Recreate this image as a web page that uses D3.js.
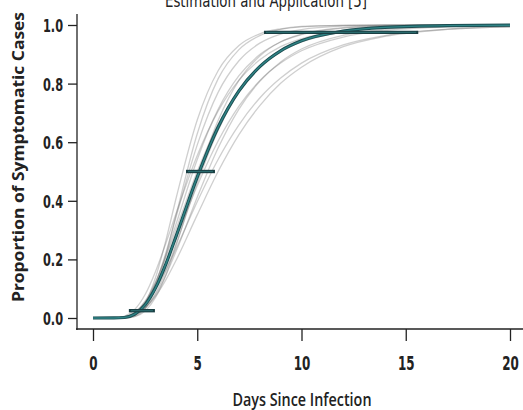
<!DOCTYPE html>
<html>
<head>
<meta charset="utf-8">
<script src="https://cdn.jsdelivr.net/npm/d3@7"></script>
<style>
  html, body { margin: 0; padding: 0; background: #fff; }
  svg { display: block; }
  .narrow { font-family: "Liberation Sans Narrow", "Arial Narrow", "DejaVu Sans Condensed", "Liberation Sans", sans-serif; }
</style>
</head>
<body>
<svg id="chart" width="523" height="410"></svg>
<script>
// ---- data ----
const days = [0, 1, 1.5, 2, 2.5, 3, 3.5, 4, 5, 6, 7, 8, 9, 10, 12, 14, 17, 20];
const mainCurve = [0, 0.0001, 0.0018, 0.013, 0.045, 0.103, 0.185, 0.282, 0.481, 0.651, 0.775, 0.858, 0.912, 0.946, 0.979, 0.992, 0.998, 0.9994];
const grayA = [0, 0, 0.0002, 0.010, 0.050, 0.138, 0.266, 0.413, 0.676, 0.844, 0.930, 0.970, 0.987, 0.995, 0.999, 1, 1, 1];
const grayB = [0, 0, 0.0004, 0.0103, 0.045, 0.1175, 0.224, 0.349, 0.591, 0.770, 0.878, 0.938, 0.969, 0.9845, 0.996, 0.999, 1, 1];
const grayC = [0, 0, 0.0018, 0.0143, 0.0515, 0.120, 0.215, 0.324, 0.541, 0.712, 0.827, 0.899, 0.942, 0.967, 0.989, 0.9963, 0.9992, 1];
const grayD = [0, 0.0001, 0.0031, 0.0186, 0.0576, 0.123, 0.209, 0.306, 0.5, 0.661, 0.778, 0.857, 0.909, 0.942, 0.977, 0.990, 0.9973, 0.9992];
const grayE = [0, 0.0002, 0.0036, 0.019, 0.055, 0.113, 0.189, 0.275, 0.451, 0.604, 0.723, 0.810, 0.870, 0.912, 0.959, 0.981, 0.9934, 0.9976];
const grayF = [0, 0.0003, 0.0038, 0.018, 0.050, 0.0996, 0.165, 0.239, 0.397, 0.541, 0.659, 0.751, 0.819, 0.870, 0.932, 0.964, 0.9856, 0.994];
const grayG = [0, 0, 0.0002, 0.0056, 0.033, 0.1026, 0.216, 0.356, 0.629, 0.816, 0.916, 0.964, 0.985, 0.9937, 0.9989, 1, 1, 1];
const grayH = [0, 0, 0.0007, 0.0084, 0.0336, 0.0845, 0.161, 0.256, 0.461, 0.640, 0.771, 0.859, 0.915, 0.949, 0.9817, 0.9934, 0.9985, 0.9996];
const grayI = [0, 0, 0.0008, 0.0093, 0.0334, 0.079, 0.147, 0.230, 0.412, 0.580, 0.713, 0.808, 0.874, 0.918, 0.965, 0.985, 0.9957, 0.9987];
const grayJ = [0, 0.0003, 0.0056, 0.0288, 0.080, 0.159, 0.256, 0.360, 0.555, 0.706, 0.812, 0.881, 0.926, 0.953, 0.981, 0.9924, 0.9979, 0.9994];
const grayK = [0, 0.0001, 0.0019, 0.011, 0.034, 0.0744, 0.131, 0.199, 0.352, 0.5, 0.626, 0.725, 0.801, 0.856, 0.926, 0.961, 0.985, 0.994];
const grayL = [0, 0, 0.0003, 0.0047, 0.0239, 0.0703, 0.148, 0.250, 0.478, 0.674, 0.811, 0.894, 0.943, 0.969, 0.991, 0.9975, 0.9996, 1];
const graySeries = [grayA, grayB, grayC, grayD, grayE, grayF, grayG, grayH, grayI, grayJ, grayK, grayL];
// confidence-interval bars: proportion level, low day, high day
const ciLevels = [0.025, 0.5, 0.975];
const ciLow = [1.72, 4.46, 8.2];
const ciHigh = [2.97, 5.85, 15.6];
const xTicks = [0, 5, 10, 15, 20];
const yTicks = [0, 0.2, 0.4, 0.6, 0.8, 1.0];
const title = "Estimation and Application [5]";
const xTitle = "Days Since Infection";
const yTitle = "Proportion of Symptomatic Cases";

// ---- drawing ----
const svg = d3.select("#chart");
const x = d3.scaleLinear().domain([0, 20]).range([93, 510]);
const y = d3.scaleLinear().domain([0, 1]).range([318, 25]);
const squeeze = 0.7;

const line = d3.line()
  .x((d, i) => x(days[i]))
  .y(d => y(d))
  .curve(d3.curveMonotoneX);

// gray bootstrap curves
svg.append("g")
  .selectAll("path")
  .data(graySeries)
  .join("path")
  .attr("d", line)
  .attr("fill", "none")
  .attr("stroke", "#6a6a6a")
  .attr("stroke-opacity", 0.32)
  .attr("stroke-width", 1.3);

// main curve
svg.append("path").attr("d", line(mainCurve))
  .attr("fill", "none").attr("stroke", "#1b4c50").attr("stroke-width", 3.2);
svg.append("path").attr("d", line(mainCurve))
  .attr("fill", "none").attr("stroke", "#2f8385").attr("stroke-width", 1.4);

// CI bars
const ciG = svg.append("g");
ciLevels.forEach((p, i) => {
  ciG.append("line")
    .attr("x1", x(ciLow[i])).attr("x2", x(ciHigh[i]))
    .attr("y1", y(p)).attr("y2", y(p))
    .attr("stroke", "#1a3f43").attr("stroke-width", 3.4);
  ciG.append("line")
    .attr("x1", x(ciLow[i]) + 2).attr("x2", x(ciHigh[i]) - 2)
    .attr("y1", y(p)).attr("y2", y(p))
    .attr("stroke", "#2a6a6d").attr("stroke-width", 1.2);
});

// y axis
const yAxis = svg.append("g").attr("transform", "translate(77,0)")
  .call(d3.axisLeft(y).tickValues(yTicks).tickFormat(d3.format(".1f")).tickSize(9));
yAxis.select(".domain").remove();
yAxis.selectAll(".tick line").attr("stroke", "#222").attr("stroke-width", 1.3);
yAxis.selectAll(".tick text")
  .attr("class", "narrow")
  .attr("font-size", 18).attr("font-weight", "bold").attr("fill", "#222")
  .attr("x", -14 / squeeze)
  .attr("dy", "0.36em")
  .attr("transform", `scale(${squeeze},1)`);
svg.append("line").attr("x1", 77).attr("x2", 77).attr("y1", 14).attr("y2", 330)
  .attr("stroke", "#222").attr("stroke-width", 1.3);

// x axis
const xAxis = svg.append("g").attr("transform", "translate(0,329)")
  .call(d3.axisBottom(x).tickValues(xTicks).tickSize(12));
xAxis.select(".domain").remove();
xAxis.selectAll(".tick line").attr("stroke", "#222").attr("stroke-width", 1.3);
xAxis.selectAll(".tick text")
  .attr("class", "narrow")
  .attr("font-size", 19).attr("font-weight", "bold").attr("fill", "#222")
  .attr("y", 41).attr("dy", 0)
  .attr("transform", `scale(${squeeze},1)`);
svg.append("line").attr("x1", 76).attr("x2", 523).attr("y1", 329).attr("y2", 329)
  .attr("stroke", "#222").attr("stroke-width", 1.5);

// titles
svg.append("text").attr("class", "narrow")
  .attr("x", 266).attr("y", 7).attr("text-anchor", "middle")
  .attr("font-size", 17).attr("fill", "#222")
  .attr("textLength", 202).attr("lengthAdjust", "spacingAndGlyphs")
  .text(title);

svg.append("text")
  .attr("x", 302).attr("y", 406).attr("text-anchor", "middle")
  .attr("font-family", "'Open Sans', sans-serif")
  .attr("font-size", 18).attr("font-weight", 600).attr("fill", "#222")
  .attr("textLength", 139).attr("lengthAdjust", "spacingAndGlyphs")
  .text(xTitle);

svg.append("text")
  .attr("transform", "translate(24,157) rotate(-90)")
  .attr("text-anchor", "middle")
  .attr("font-family", "'Open Sans', sans-serif")
  .attr("font-size", 16).attr("font-weight", "bold").attr("fill", "#222")
  .attr("textLength", 290).attr("lengthAdjust", "spacingAndGlyphs")
  .text(yTitle);
</script>
</body>
</html>
